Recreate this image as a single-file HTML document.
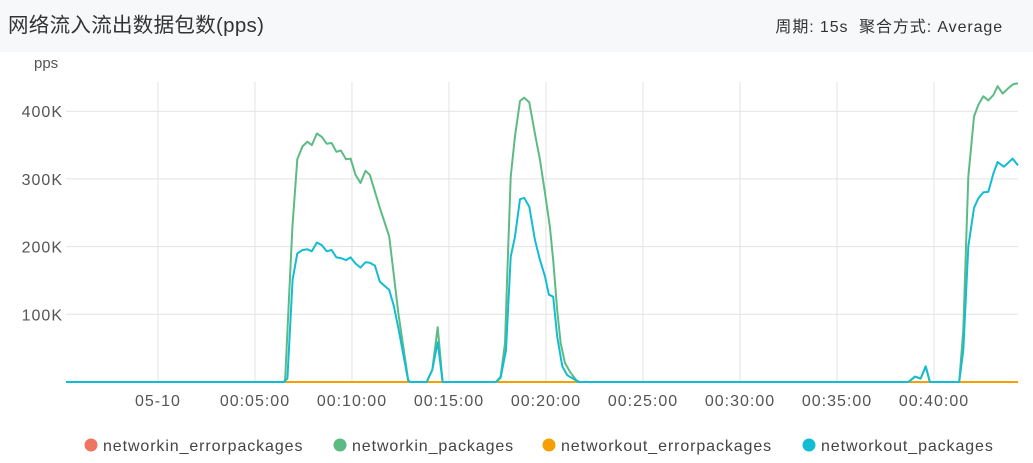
<!DOCTYPE html>
<html><head><meta charset="utf-8"><style>
body{margin:0;width:1033px;height:463px;background:#fff;font-family:"Liberation Sans","Noto Sans CJK SC",sans-serif;overflow:hidden}
#hdr{position:absolute;left:0;top:0;width:1033px;height:52px;background:#f7f8fa}
#title{position:absolute;left:8px;top:8px;font-size:20.5px;color:#333;letter-spacing:0.3px}
#meta{position:absolute;right:30px;top:13px;font-size:16px;color:#333;letter-spacing:0.9px}
svg{position:absolute;left:0;top:0}
</style></head><body>
<div id="hdr">
<div id="title">网络流入流出数据包数(pps)</div>
<div id="meta">周期: 15s &nbsp;聚合方式: Average</div>
</div>
<svg id="chart" width="1033" height="463"></svg>
<script>
const yTicks=[100000,200000,300000,400000];
const yTickLabels=["100K","200K","300K","400K"];
const xTicks=[0,5,10,15,20,25,30,35,40];
const xTickLabels=["05-10","00:05:00","00:10:00","00:15:00","00:20:00","00:25:00","00:30:00","00:35:00","00:40:00"];
const inTimes=[-4.74,6.55,6.93,7.18,7.45,7.7,7.93,8.19,8.45,8.7,8.95,9.2,9.43,9.69,9.93,10.18,10.44,10.7,10.92,11.44,11.92,12.39,12.9,13.0,13.85,14.14,14.42,14.67,17.42,17.66,17.89,18.0,18.18,18.4,18.66,18.88,19.14,19.43,19.69,19.95,20.2,20.37,20.58,20.76,20.98,21.24,21.58,21.75,38.68,39.02,39.31,39.57,39.79,41.3,41.51,41.77,42.06,42.28,42.54,42.8,43.06,43.28,43.54,43.83,44.09,44.33];
const inPackets=[0,0,229000,329000,348000,355000,350000,367000,362000,352000,353000,340000,342000,329000,330000,306000,294000,312000,306000,257000,215000,102000,3000,0,0,18000,81000,0,0,8000,57000,156000,303000,362000,415000,420000,413000,367000,328000,279000,229000,180000,106000,57000,28000,15000,2000,0,0,8000,5000,23000,0,0,77000,303000,392000,409000,422000,416000,424000,437000,426000,434000,440000,441000];
const outTimes=[-4.74,6.46,6.67,6.94,7.18,7.45,7.7,7.93,8.19,8.45,8.7,8.95,9.2,9.43,9.69,9.93,10.18,10.44,10.7,10.92,11.18,11.44,11.92,12.15,12.39,12.7,12.9,13.0,13.85,14.14,14.42,14.67,17.42,17.66,17.94,18.18,18.4,18.66,18.88,19.14,19.43,19.69,19.95,20.15,20.37,20.58,20.84,21.1,21.4,21.67,38.68,39.02,39.31,39.57,39.79,41.3,41.51,41.77,42.06,42.28,42.54,42.8,43.06,43.28,43.6,43.83,44.05,44.33];
const outPackets=[0,0,5000,151000,190000,195000,196000,193000,206000,202000,193000,195000,184000,183000,180000,184000,175000,169000,177000,176000,172000,148000,136000,113000,80000,32000,2000,0,0,18000,59000,0,0,6000,47000,185000,214000,270000,272000,259000,210000,180000,156000,129000,126000,67000,23000,10000,5000,0,0,8000,5000,23000,0,0,47000,200000,257000,271000,280000,281000,308000,325000,318000,324000,330000,320000];
const zeroTimes=[-4.74,44.33];
const inErrors=[0,0];
const outErrors=[0,0];

const X0=66,X1=1018,T0=-4.74,T1=44.33,Y0=382,PX=0.000677;
const xs=t=>X0+(t-T0)/(T1-T0)*(X1-X0);
const ys=v=>Y0-v*PX;
const svg=document.getElementById('chart');
const NS='http://www.w3.org/2000/svg';
function mk(tag,at){const e=document.createElementNS(NS,tag);for(const k in at)e.setAttribute(k,at[k]);svg.appendChild(e);return e;}
yTicks.forEach((v,i)=>{
 const l=mk('line',{x1:X0,x2:X1,y1:ys(v),y2:ys(v),stroke:'#e3e3e3','stroke-width':1});
 
 
 const t=mk('text',{x:63,y:ys(v)+6,'text-anchor':'end','font-size':16,'letter-spacing':1,fill:'#555'});
 t.textContent=yTickLabels[i];
 
 
});
xTicks.forEach((m,i)=>{
 const l=mk('line',{x1:xs(m),x2:xs(m),y1:82,y2:Y0,stroke:'#e3e3e3','stroke-width':1});
 
 
 const t=mk('text',{x:xs(m),y:406,'text-anchor':'middle','font-size':16,'letter-spacing':1,fill:'#555'});
 t.textContent=xTickLabels[i];
 
 
});
const u=mk('text',{x:34,y:68,'font-size':15,fill:'#555'});u.textContent='pps';


const ax=mk('line',{x1:X0,x2:X1,y1:Y0,y2:Y0,stroke:'#ddd'});


function series(times,vals,color,name){
 const d=times.map((t,i)=>(i?'L':'M')+xs(t).toFixed(1)+','+ys(vals[i]).toFixed(1)).join('');
 const p=mk('path',{d:d,fill:'none',stroke:color,'stroke-width':2,'stroke-linejoin':'round'});
 
 
}
series(zeroTimes,inErrors,'#f07561','line-networkin-errorpackages');
series(zeroTimes,outErrors,'#f5a000','line-networkout-errorpackages');
series(inTimes,inPackets,'#5cbb84','line-networkin-packages');
series(outTimes,outPackets,'#14bcd3','line-networkout-packages');
const leg=[[91,'#f07561','networkin_errorpackages'],[340,'#5cbb84','networkin_packages'],[549,'#f5a000','networkout_errorpackages'],[809,'#14bcd3','networkout_packages']];
leg.forEach(g=>{
 const c=mk('circle',{cx:g[0],cy:445,r:6.5,fill:g[1]});
 
 
 const t=mk('text',{x:g[0]+12,y:451,'font-size':16,'letter-spacing':0.9,fill:'#444'});t.textContent=g[2];
 
 
});
</script>
</body></html>
